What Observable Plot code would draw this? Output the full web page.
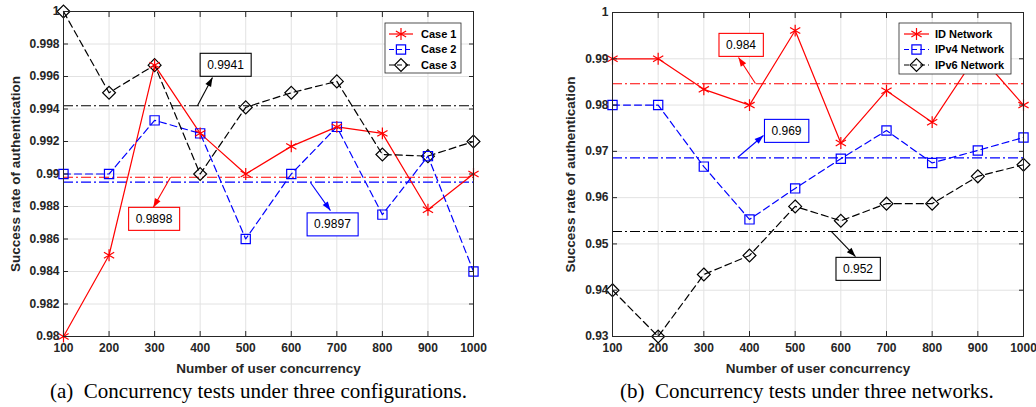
<!DOCTYPE html>
<html><head><meta charset="utf-8">
<script src="https://cdn.jsdelivr.net/npm/d3@7"></script>
<script src="https://cdn.jsdelivr.net/npm/@observablehq/plot@0.6"></script>
<style>
body{margin:0;background:#fff;}
#wrap{position:relative;width:1036px;height:407px;overflow:hidden;background:#fff;}
.chart{position:absolute;top:0;}
.cap{position:absolute;top:381px;font-family:"Liberation Serif","Times New Roman",serif;font-size:21px;line-height:21px;white-space:pre;color:#000;}
</style></head><body>
<div id="wrap">
  <div id="chartA" class="chart" style="left:0px"></div>
  <div id="chartB" class="chart" style="left:518px"></div>
  <div id="capA" class="cap" style="left:50px"></div>
  <div id="capB" class="cap" style="left:620px"></div>
</div>
<script>
// ---------- data ----------
const xValues = [100, 200, 300, 400, 500, 600, 700, 800, 900, 1000];
const xTicks = [100, 200, 300, 400, 500, 600, 700, 800, 900, 1000];
const yTicksA = [0.98, 0.982, 0.984, 0.986, 0.988, 0.99, 0.992, 0.994, 0.996, 0.998, 1];
const yTicksB = [0.93, 0.94, 0.95, 0.96, 0.97, 0.98, 0.99, 1];

const namesA = ["Case 1", "Case 2", "Case 3"];
const case1 = [0.980, 0.985, 0.9967, 0.9925, 0.990, 0.9917, 0.9929, 0.9925, 0.9878, 0.990];
const case2 = [0.990, 0.990, 0.9933, 0.9925, 0.986, 0.990, 0.9929, 0.9875, 0.9911, 0.984];
const case3 = [1.000, 0.995, 0.9967, 0.990, 0.9941, 0.995, 0.9957, 0.9912, 0.9911, 0.992];
const meansA = [0.9898, 0.9895, 0.9942];
const noteLabelsA = ["0.9898", "0.9897", "0.9941"];
const noteStartXA = [335, 642, 394];
const noteStartYA = [0.9898, 0.98948, 0.9942];
const noteTipXA = [297, 686, 427];
const noteTipYA = [0.98794, 0.98775, 0.99594];
const noteBoxXA = [298.6, 690.4, 455.6];
const noteBoxYA = [0.98723, 0.98689, 0.99671];

const namesB = ["ID Network", "IPv4 Network", "IPv6 Network"];
const idNet = [0.990, 0.990, 0.9834, 0.980, 0.9961, 0.9718, 0.9831, 0.9763, 0.9912, 0.980];
const ipv4Net = [0.980, 0.980, 0.9667, 0.9553, 0.962, 0.9684, 0.9745, 0.9675, 0.9702, 0.973];
const ipv6Net = [0.940, 0.930, 0.9434, 0.9475, 0.9581, 0.955, 0.9587, 0.9587, 0.9646, 0.9671];
const meansB = [0.9846, 0.9686, 0.9527];
const noteLabelsB = ["0.984", "0.969", "0.952"];
const noteStartXB = [413, 374, 579.5];
const noteStartYB = [0.98466, 0.96867, 0.95268];
const noteTipXB = [376, 430.6, 632];
const noteTipYB = [0.99027, 0.97342, 0.94728];
const noteBoxXB = [381.4, 481, 637.6];
const noteBoxYB = [0.99297, 0.97439, 0.94458];

const colors = ["#ff0000", "#0000ff", "#000000"];
const symbols = ["asterisk", "square", "diamond2"];
const dashes = [null, "7,4", "7,4"];
const radii = [5.6, 5.2, 5.8];

const xLabel = "Number of user concurrency";
const yLabel = "Success rate of authentication";
const captionA = "(a)  Concurrency tests under three configurations.";
const captionB = "(b)  Concurrency tests under three networks.";

// ---------- chart builder ----------
const symMap = {asterisk: d3.symbolAsterisk, square: d3.symbolSquare, diamond2: d3.symbolDiamond2};
const SVGNS = "http://www.w3.org/2000/svg";

function makeChart(cfg) {
  const series = cfg.values.map((vals, i) => ({
    name: cfg.names[i], color: colors[i], symbol: symbols[i], dash: dashes[i], r: radii[i],
    rows: xValues.map((x, j) => ({x, y: vals[j]}))
  }));
  const notes = cfg.noteLabels.map((label, i) => ({
    label, color: colors[i],
    x1: cfg.sx[i], y1: cfg.sy[i], x2: cfg.tx[i], y2: cfg.ty[i], bx: cfg.bx[i], by: cfg.by[i]
  }));
  const fmt = d => String(d);
  const marks = [
    Plot.gridX(xTicks, {stroke: "#e2e2e2", strokeOpacity: 1}),
    Plot.gridY(cfg.yTicks, {stroke: "#e2e2e2", strokeOpacity: 1}),
    ...cfg.means.map((m, i) => Plot.ruleY([m], {stroke: colors[i], strokeWidth: 1.1, strokeDasharray: "10,3,2,3"})),
    ...series.map(s => Plot.line(s.rows, {x: "x", y: "y", stroke: s.color, strokeWidth: 1.2, strokeDasharray: s.dash})),
    ...[2, 1, 0].map(i => Plot.dot(series[i].rows, {x: "x", y: "y", symbol: series[i].symbol, r: series[i].r, stroke: series[i].color, fill: "none", strokeWidth: 1.2})),
    Plot.link(notes, {x1: "x1", y1: "y1", x2: "x2", y2: "y2", stroke: "color", strokeWidth: 1.1}),
    Plot.text(notes, {x: "bx", y: "by", text: "label", fontWeight: "normal", fontSize: 12, fill: "#000", textAnchor: "middle", lineAnchor: "middle"}),
    Plot.frame({stroke: "#262626", strokeWidth: 1}),
    Plot.axisX(xTicks, {anchor: "bottom", tickSize: 0, tickPadding: 7, label: null, tickFormat: fmt}),
    Plot.axisX(xTicks, {anchor: "bottom", tickSize: -5, tickFormat: () => "", label: null}),
    Plot.axisX(xTicks, {anchor: "top", tickSize: -5, tickFormat: () => "", label: null}),
    Plot.axisY(cfg.yTicks, {anchor: "left", tickSize: 0, tickPadding: 4, label: null, tickFormat: fmt}),
    Plot.axisY(cfg.yTicks, {anchor: "left", tickSize: -5, tickFormat: () => "", label: null}),
    Plot.axisY(cfg.yTicks, {anchor: "right", tickSize: -5, tickFormat: () => "", label: null}),
    Plot.text([xLabel], {text: d => d, frameAnchor: "bottom", dy: 32, textAnchor: "middle", lineAnchor: "middle", fontSize: 13.5, fontWeight: "bold", fill: "#262626"}),
    Plot.text([yLabel], {text: d => d, frameAnchor: "left", dx: cfg.yLabelDx, rotate: -90, textAnchor: "middle", lineAnchor: "middle", fontSize: 13.5, fontWeight: "bold", fill: "#262626"})
  ];
  const svg = Plot.plot({
    width: 518, height: 380,
    marginLeft: cfg.marginLeft, marginRight: cfg.marginRight, marginTop: cfg.marginTop, marginBottom: 44,
    x: {domain: [100, 1000]},
    y: {domain: cfg.yDomain},
    style: {fontFamily: "'Liberation Sans', Arial, sans-serif", fontSize: "12px", fontWeight: "bold", color: "#262626", background: "transparent"},
    marks
  });
  document.getElementById(cfg.target).appendChild(svg);
  const root = d3.select(svg);

  // filled arrow heads at the link ends (placed from the drawn link paths)
  root.selectAll('g[aria-label="link"] path').each(function(d, i) {
    const p = this;
    const len = p.getTotalLength();
    const tip = p.getPointAtLength(len);
    const back = p.getPointAtLength(Math.max(0, len - 1));
    const ang = Math.atan2(tip.y - back.y, tip.x - back.x);
    const L = 9, W = 3.2;
    const bx = tip.x - L * Math.cos(ang), by = tip.y - L * Math.sin(ang);
    const pts = [[tip.x, tip.y], [bx + W * Math.sin(ang), by - W * Math.cos(ang)], [bx - W * Math.sin(ang), by + W * Math.cos(ang)]];
    d3.select(p.parentNode).append("path").attr("d", "M" + pts.map(q => q.join(",")).join("L") + "Z")
      .attr("fill", notes[i].color).attr("stroke", "none");
  });

  // boxes round the annotation texts
  svg.querySelectorAll("text").forEach(t => {
    const idx = cfg.noteLabels.indexOf(t.textContent);
    if (idx < 0) return;
    const b = t.getBBox();
    const r = document.createElementNS(SVGNS, "rect");
    const tr = t.getAttribute("transform");
    if (tr) r.setAttribute("transform", tr);
    r.setAttribute("x", b.x - 7);
    r.setAttribute("y", b.y - 4.5);
    r.setAttribute("width", b.width + 14);
    r.setAttribute("height", b.height + 9);
    r.setAttribute("fill", "#fff");
    r.setAttribute("stroke", colors[idx]);
    r.setAttribute("stroke-width", 1.1);
    t.parentNode.insertBefore(r, t);
  });

  // legend
  const L = cfg.legend;
  const g = root.append("g").attr("text-anchor", "start");
  g.append("rect").attr("x", L.x).attr("y", L.y).attr("width", L.w).attr("height", L.h)
    .attr("fill", "#ffffff").attr("stroke", "#262626").attr("stroke-width", 0.8);
  series.forEach((s, i) => {
    const yy = L.rows[i];
    g.append("line").attr("x1", L.i0).attr("x2", L.i1).attr("y1", yy).attr("y2", yy)
      .attr("stroke", s.color).attr("stroke-width", 1.2).attr("stroke-dasharray", s.dash ? "5,3" : null);
    g.append("path").attr("d", d3.symbol(symMap[s.symbol], Math.PI * s.r * s.r)())
      .attr("transform", `translate(${(L.i0 + L.i1) / 2},${yy})`)
      .attr("fill", "none").attr("stroke", s.color).attr("stroke-width", 1.2);
    g.append("text").attr("x", L.tx).attr("y", yy).attr("dy", "0.35em").text(s.name)
      .attr("font-size", 11).attr("font-weight", "bold").attr("fill", "#000");
  });
}

makeChart({
  target: "chartA", names: namesA, values: [case1, case2, case3], means: meansA,
  noteLabels: noteLabelsA, sx: noteStartXA, sy: noteStartYA, tx: noteTipXA, ty: noteTipYA, bx: noteBoxXA, by: noteBoxYA,
  yTicks: yTicksA, yDomain: [0.98, 1], marginLeft: 63, marginRight: 45, marginTop: 11, yLabelDx: -48,
  legend: {x: 385, y: 23, w: 76, h: 50, rows: [34, 49.5, 65], i0: 389, i1: 413, tx: 421}
});
makeChart({
  target: "chartB", names: namesB, values: [idNet, ipv4Net, ipv6Net], means: meansB,
  noteLabels: noteLabelsB, sx: noteStartXB, sy: noteStartYB, tx: noteTipXB, ty: noteTipYB, bx: noteBoxXB, by: noteBoxYB,
  yTicks: yTicksB, yDomain: [0.93, 1], marginLeft: 94, marginRight: 13, marginTop: 12, yLabelDx: -42,
  legend: {x: 381, y: 23, w: 112, h: 51, rows: [34, 49.5, 65], i0: 386, i1: 411, tx: 417}
});
document.getElementById("capA").textContent = captionA;
document.getElementById("capB").textContent = captionB;
</script>
</body></html>
